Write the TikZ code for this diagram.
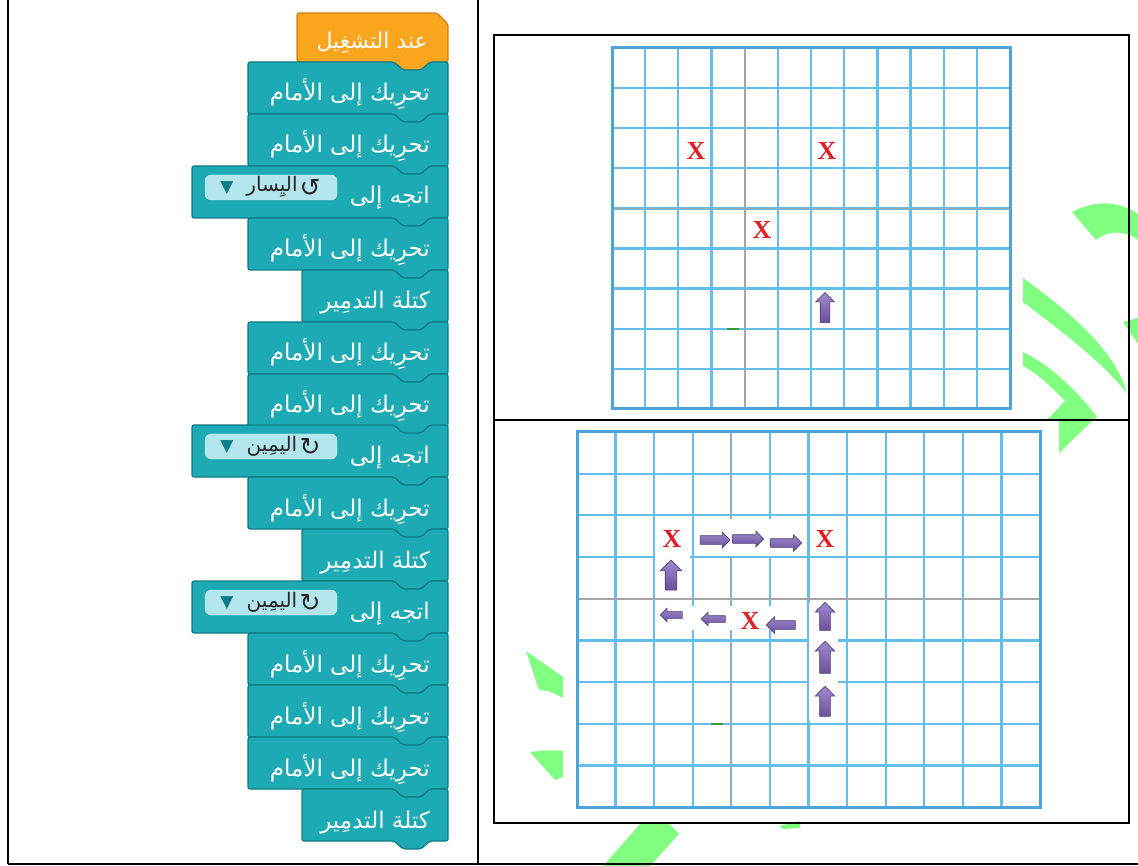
\documentclass[tikz,border=0pt]{standalone}
\usepackage{fontspec}
\usepackage{xcolor}
\usepackage{tikz}
\usetikzlibrary{shapes.arrows, positioning}
\TeXXeTstate=1
\newfontfamily\arfont[Script=Arabic]{DejaVu Sans}
\newfontfamily\symfont{DejaVu Sans}
\newfontfamily\xfont{Liberation Serif}

\definecolor{blockteal}{RGB}{30,170,180}
\definecolor{blockdark}{RGB}{15,125,135}
\definecolor{hatorange}{RGB}{249,166,30}
\definecolor{hatdark}{RGB}{210,130,15}
\definecolor{fieldblue}{RGB}{178,230,236}
\definecolor{gridblue}{RGB}{100,190,236}
\definecolor{gridedge}{RGB}{75,165,218}
\definecolor{gridgray}{RGB}{165,165,165}
\definecolor{crossred}{RGB}{225,30,35}
\definecolor{botlight}{RGB}{160,140,205}
\definecolor{botpurple}{RGB}{105,80,155}
\definecolor{botdark}{RGB}{80,60,125}
\definecolor{markgreen}{RGB}{128,255,128}
\definecolor{dashgreen}{RGB}{60,150,60}

%% one code block: left x, top y, fill colour
\newcommand{\blk}[3]{%
  \filldraw[blockedge, fill=#3] (#1,#2) -- (394,#2) -- (403,#2+8) -- (421,#2+8) -- (430,#2)
    -- (448,#2) -- (448,#2+52) -- (430,#2+52) -- (421,#2+60) -- (403,#2+60) -- (394,#2+52)
    -- (#1,#2+52) -- cycle;}

\begin{document}
\begin{tikzpicture}[x=1pt, y=-1pt,
  blockedge/.style={draw=blockdark, line width=1.2pt, rounded corners=2pt},
  blocktext/.style={font=\arfont\fontsize{23}{26}\selectfont, text=white, anchor=base east, inner sep=0pt},
  field/.style={rectangle, rounded corners=6pt, fill=fieldblue, draw=fieldblue!60!white,
                minimum width=132pt, minimum height=25pt, inner sep=0pt},
  fieldtext/.style={font=\arfont\fontsize{20}{22}\selectfont, text=black!85, inner sep=0pt},
  fieldsym/.style={font=\symfont\fontsize{17}{20}\selectfont, inner sep=0pt},
  rotsym/.style={font=\symfont\fontsize{25}{26}\selectfont, text=black!85, inner sep=0pt},
  gridline/.style={draw=gridblue, line width=2.3pt},
  gridmid/.style={draw=gridgray, line width=1.6pt},
  gridframe/.style={draw=gridedge, line width=3pt},
  cross/.style={font=\xfont\bfseries\fontsize{26}{26}\selectfont, text=crossred, inner sep=0pt},
  botarrow/.style={single arrow, top color=botlight, bottom color=botpurple, draw=botdark,
                   line width=0.6pt, inner xsep=0pt},
  frame/.style={draw=black, line width=2.6pt},
  patch/.style={fill=white}
]
\useasboundingbox (0,0) rectangle (1138,866);

%% green marks (behind everything)
\fill[markgreen] (1072,212) .. controls (1098,198) and (1122,203) .. (1138,214) -- (1138,240)
  .. controls (1124,230) and (1108,230) .. (1096,240) -- cycle;
\fill[markgreen] (1023,278) .. controls (1070,312) and (1115,350) .. (1127,393)
  .. controls (1100,360) and (1060,330) .. (1023,302) -- cycle;
\fill[markgreen] (1123,322) -- (1138,318) -- (1138,344) -- cycle;
\fill[markgreen] (1023,352) .. controls (1055,368) and (1080,395) .. (1097,417) -- (1092,421)
  -- (1059,453) -- (1059,421) -- (1047,420) -- (1065,401) .. controls (1052,388) and (1040,375) .. (1023,366) -- cycle;
\fill[markgreen] (526,651) -- (563,677) -- (563,698) .. controls (553,692) and (545,690) .. (539,690) -- cycle;
\fill[markgreen] (530,752) .. controls (545,750) and (555,750) .. (563,751) -- (563,777) -- (555,780) -- cycle;
\fill[markgreen] (641,823) -- (668,823) -- (679,834) -- (650,866) -- (603,866) -- cycle;
\fill[markgreen] (779,826) -- (800,821) -- (800,828) -- (783,829) -- cycle;

%% picture backgrounds
\fill[patch] (604,40) rectangle (1023,417);
\fill[patch] (563,424) rectangle (1050,818);

%% top grid
\foreach \i in {0,...,12}
  \draw[gridline] ({612+33.17*\i},48) -- ({612+33.17*\i},409);
\foreach \j in {0,...,9}
  \draw[gridline] (612,{48+40.1*\j}) -- (1010,{48+40.1*\j});
\draw[gridmid] (744.7,48) -- (744.7,409);
\draw[gridmid] (612,208.4) -- (1010,208.4);
\draw[gridframe] (612,48) rectangle (1010,409);

%% bottom grid
\foreach \i in {0,...,12}
  \draw[gridline] ({577+38.58*\i},432) -- ({577+38.58*\i},807);
\foreach \j in {0,...,9}
  \draw[gridline] (577,{432+41.67*\j}) -- (1040,{432+41.67*\j});
\draw[gridmid] (731.3,432) -- (731.3,807);
\draw[gridmid] (577,598.7) -- (1040,598.7);
\draw[gridframe] (577,432) rectangle (1040,807);

%% white cut-outs behind the pieces
\fill[patch] (813,292) rectangle (838,327);
\fill[patch] (655,519) rectangle (690,597);
\fill[patch] (694,519) rectangle (806,556);
\fill[patch] (811,527) rectangle (838,553);
\fill[patch] (655,606) rectangle (806,630);
\fill[patch] (809,603) rectangle (838,721);

%% top grid pieces
\node[cross] (tx1) at (696,151) {X};
\node[cross] (tx2) at (827,151) {X};
\node[cross] (tx3) at (762,230) {X};
\node[botarrow, rotate=90, minimum height=30pt, inner ysep=4.5pt, single arrow head extend=4.5pt] (tup) at (825,310) {};
\draw[dashgreen, line width=1.2pt] (727,329) -- (739,329);

%% bottom grid pieces
\node[cross] (bx1) at (672,539) {X};
\node[cross] (bx2) at (825,539) {X};
\node[cross] (bx3) at (750,621) {X};
\node[botarrow, minimum height=30pt, inner ysep=4pt, single arrow head extend=3.5pt] (r1) at (713,540) {};
\node[botarrow, minimum height=31pt, inner ysep=4pt, single arrow head extend=3.5pt] (r2) at (746,539) {};
\node[botarrow, minimum height=31pt, inner ysep=4pt, single arrow head extend=4pt] (r3) at (784,543) {};
\node[botarrow, rotate=90, minimum height=30pt, inner ysep=5.5pt, single arrow head extend=5pt] (u0) at (671,578) {};
\node[botarrow, rotate=180, minimum height=22pt, inner ysep=3pt, single arrow head extend=3.5pt] (l1) at (673,615) {};
\node[botarrow, rotate=180, minimum height=24pt, inner ysep=3pt, single arrow head extend=3.5pt] (l2) at (715,619) {};
\node[botarrow, rotate=180, minimum height=29pt, inner ysep=4pt, single arrow head extend=4pt] (l3) at (783,625) {};
\node[botarrow, rotate=90, minimum height=28pt, inner ysep=5pt, single arrow head extend=4.5pt] (u1) at (825,619) {};
\node[botarrow, rotate=90, minimum height=32pt, inner ysep=5pt, single arrow head extend=4.5pt] (u2) at (825,660) {};
\node[botarrow, rotate=90, minimum height=30pt, inner ysep=5pt, single arrow head extend=4.5pt] (u3) at (825,704) {};
\draw[dashgreen, line width=1.2pt] (711,724) -- (723,724);

%% code blocks
\filldraw[blockedge, draw=hatdark, fill=hatorange] (297,13) -- (437,13) -- (448,24) -- (448,62)
  -- (430,62) -- (421,70) -- (403,70) -- (394,62) -- (297,62) -- cycle;
\node[blocktext, font=\arfont\fontsize{22}{26}\selectfont] (start) at (428,49) {\beginR عند التشغِيل\endR};

\blk{248}{62}{blockteal}
\node[blocktext] (mv1) at (430,101) {\beginR تحرِيك إلى الأمام\endR};
\blk{248}{114}{blockteal}
\node[blocktext] (mv2) at (430,153) {\beginR تحرِيك إلى الأمام\endR};
\blk{192}{166}{blockteal}
\node[blocktext] (turn1) at (430,204) {\beginR اتجه إلى\endR};
\node[field] (dir1) at (271,187.5) {};
\node[fieldsym, text=blockdark] (tri1) at (227,188) {▼};
\node[fieldtext] (word1) at (272,187) {\beginR اليِسار\endR};
\node[rotsym] (rot1) at (310,188) {↺};
\blk{248}{218}{blockteal}
\node[blocktext] (mv3) at (430,257) {\beginR تحرِيك إلى الأمام\endR};
\blk{302}{270}{blockteal}
\node[blocktext] (hit1) at (430,309) {\beginR كتلة التدمِير\endR};
\blk{248}{322}{blockteal}
\node[blocktext] (mv4) at (430,361) {\beginR تحرِيك إلى الأمام\endR};
\blk{248}{374}{blockteal}
\node[blocktext] (mv5) at (430,413) {\beginR تحرِيك إلى الأمام\endR};
\blk{192}{425}{blockteal}
\node[blocktext] (turn2) at (430,463) {\beginR اتجه إلى\endR};
\node[field] (dir2) at (271,446.5) {};
\node[fieldsym, text=blockdark] (tri2) at (227,447) {▼};
\node[fieldtext] (word2) at (272,446) {\beginR اليمِين\endR};
\node[rotsym] (rot2) at (310,447) {↻};
\blk{248}{477}{blockteal}
\node[blocktext] (mv6) at (430,516) {\beginR تحرِيك إلى الأمام\endR};
\blk{302}{529}{blockteal}
\node[blocktext] (hit2) at (430,568) {\beginR كتلة التدمِير\endR};
\blk{192}{581}{blockteal}
\node[blocktext] (turn3) at (430,619) {\beginR اتجه إلى\endR};
\node[field] (dir3) at (271,602.5) {};
\node[fieldsym, text=blockdark] (tri3) at (227,603) {▼};
\node[fieldtext] (word3) at (272,602) {\beginR اليمِين\endR};
\node[rotsym] (rot3) at (310,603) {↻};
\blk{248}{633}{blockteal}
\node[blocktext] (mv7) at (430,672) {\beginR تحرِيك إلى الأمام\endR};
\blk{248}{685}{blockteal}
\node[blocktext] (mv8) at (430,724) {\beginR تحرِيك إلى الأمام\endR};
\blk{248}{737}{blockteal}
\node[blocktext] (mv9) at (430,776) {\beginR تحرِيك إلى الأمام\endR};
\blk{302}{789}{blockteal}
\node[blocktext] (hit3) at (430,828) {\beginR كتلة التدمِير\endR};

%% table lines
\draw[frame] (8,0) -- (8,864);
\draw[frame] (478,0) -- (478,864);
\draw[frame] (8,864) -- (1138,864);
\draw[frame] (494,35) rectangle (1129,823);
\draw[frame] (494,420) -- (1129,420);
\end{tikzpicture}
\end{document}
